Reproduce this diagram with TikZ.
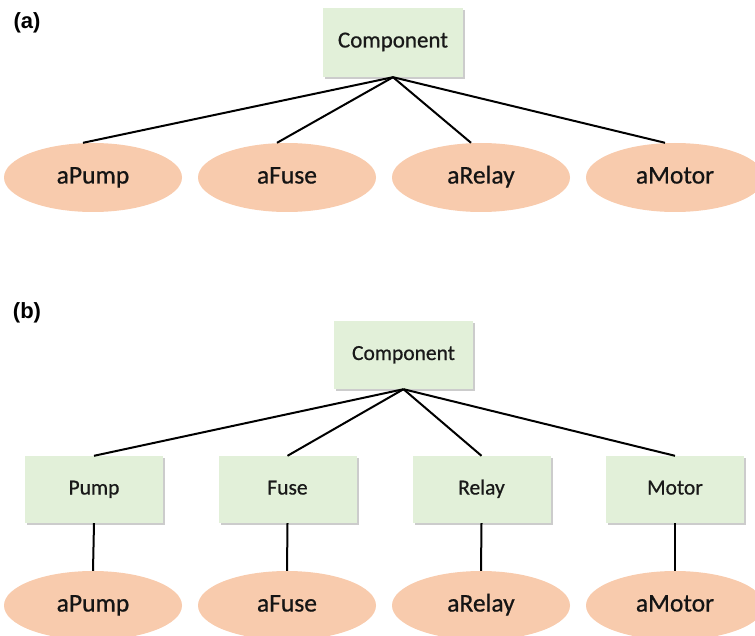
\documentclass[tikz,border=0pt]{standalone}
\usepackage{fontspec}
\setmainfont{Carlito}
\newfontfamily\heavy{Carlito}[FakeBold=0.7]
\newfontfamily\labfont{Liberation Sans}
\usetikzlibrary{shadows,shapes.geometric,calc}
\definecolor{boxgreen}{HTML}{E2F0D9}
\definecolor{peach}{HTML}{F8CBAD}
\begin{document}
\begin{tikzpicture}[x=1pt,y=-1pt,
  cls/.style={rectangle, fill=boxgreen, minimum width=138pt, minimum height=67pt, inner sep=0pt,
    drop shadow={shadow xshift=2pt, shadow yshift=-2pt, fill=black!40, opacity=0.5},
    text=black!90, font=\heavy\fontsize{21.5}{26}\selectfont, text height=14pt, text depth=4pt},
  obj/.style={ellipse, fill=peach, minimum width=178pt, minimum height=69pt, inner sep=0pt,
    text=black!92, font=\heavy\fontsize{25.5}{30}\selectfont, text height=17pt, text depth=5pt},
  link/.style={line width=2pt, black},
  panel/.style={font=\labfont\bfseries\fontsize{22}{26}\selectfont, anchor=center}]
\useasboundingbox (0,0) rectangle (755,636);
% panel (a)
\node[panel] (la) at (27,23) {(a)};
\node[cls, minimum width=140pt, minimum height=69pt, font=\heavy\fontsize{23}{28}\selectfont, text height=15pt, text depth=5pt] (ca) at (393,42.5) {Component};
\node[obj] (a1) at (93,177.5) {aPump};
\node[obj] (a2) at (287,177.5) {aFuse};
\node[obj] (a3) at (481,177.5) {aRelay};
\node[obj] (a4) at (675,177.5) {aMotor};
\foreach \e in {a1,a2,a3,a4}
  \draw[link] (ca.south) -- ($(\e.north)+(-10,0)$);
% panel (b)
\node[panel] (lb) at (27,313) {(b)};
\node[cls, minimum width=139pt, minimum height=68pt] (cb) at (403.5,355) {Component};
\node[cls] (p) at (94,489.5) {Pump};
\node[cls] (f) at (287.5,489.5) {Fuse};
\node[cls] (r) at (481.5,489.5) {Relay};
\node[cls] (m) at (675,489.5) {Motor};
\node[obj] (b1) at (93,605.5) {aPump};
\node[obj] (b2) at (287,605.5) {aFuse};
\node[obj] (b3) at (481,605.5) {aRelay};
\node[obj] (b4) at (675,605.5) {aMotor};
\foreach \c in {p,f,r,m}
  \draw[link] (cb.south) -- (\c.north);
\draw[link] (p.south) -- (b1.north);
\draw[link] (f.south) -- (b2.north);
\draw[link] (r.south) -- (b3.north);
\draw[link] (m.south) -- (b4.north);
\end{tikzpicture}
\end{document}
